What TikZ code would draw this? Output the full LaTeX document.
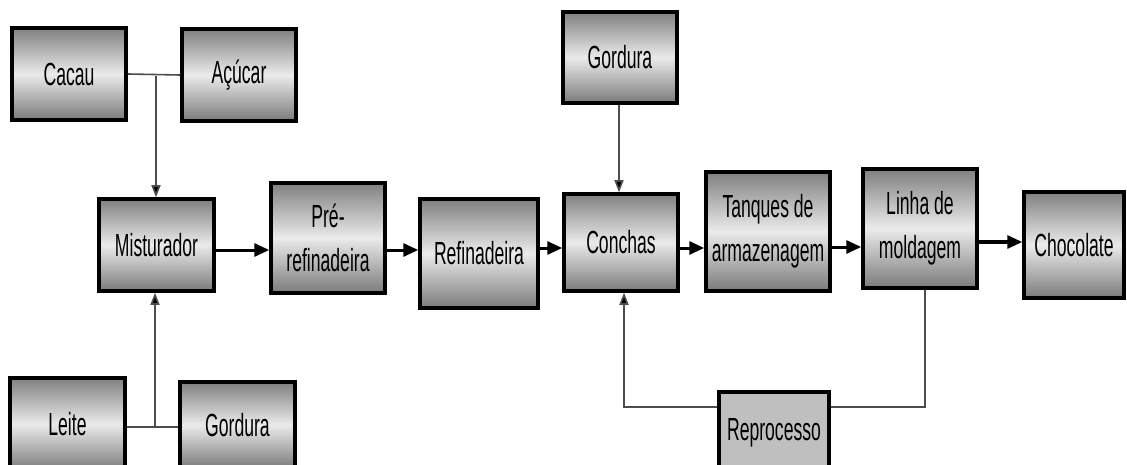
\documentclass[tikz,border=0pt]{standalone}
\usepackage{fontspec}
\setmainfont{Liberation Sans}[FakeStretch=0.55]
\usetikzlibrary{arrows.meta}
\tikzset{
  box/.style={draw=black, line width=3.5pt, top color=black!50, bottom color=black!52, middle color=black!8,
    minimum width=#1, inner sep=0pt, align=center, font=\fontsize{32}{44}\selectfont},
  flatbox/.style={draw=black, line width=3.5pt, fill=black!25, inner sep=0pt, align=center,
    font=\fontsize{32}{44}\selectfont},
  mainarrow/.style={line width=3pt, -{Triangle[length=15pt,width=13pt]}},
  thin/.style={draw=black!70, line width=1.6pt},
  thinarrow/.style={thin, -{Triangle[length=12pt,width=9pt,fill=black]}},
}
\begin{document}
\begin{tikzpicture}[x=1pt,y=-1pt]
\useasboundingbox (0,0) rectangle (1127,465);
\fill[white] (0,0) rectangle (1127,465);
\clip (0,0) rectangle (1127,465);
% top inputs
\node[box=114pt, minimum height=92pt] (cacau) at (69,74) {Cacau};
\node[box=114pt, minimum height=92pt] (acucar) at (239,75) {Açúcar};
% main chain
\node[box=115pt, minimum height=92pt] (mist) at (156.5,245) {Misturador};
\node[box=114pt, minimum height=110pt] (pre) at (328,238) {Pré-\\refinadeira};
\node[box=118pt, minimum height=109pt] (refin) at (479,253.5) {Refinadeira};
\node[box=114pt, minimum height=91pt] (gord1) at (620,57.5) {Gordura};
\node[box=114pt, minimum height=97pt] (conchas) at (621,242.5) {Conchas};
\node[box=124pt, minimum height=119pt] (tanques) at (768,231.5) {Tanques de\\armazenagem};
\node[box=114pt, minimum height=119pt] (linha) at (920,228.5) {Linha de\\moldagem};
\node[box=100pt, minimum height=106pt] (choc) at (1074,245) {Chocolate};
% bottom inputs (cut by the lower edge)
\node[box=115pt, minimum height=92pt] (leite) at (67.5,424) {Leite};
\node[box=115pt, minimum height=86pt] (gord2) at (237.5,425) {Gordura};
\node[flatbox, minimum width=110pt, minimum height=82pt] (repro) at (774,433) {Reprocesso};
% junctions
\coordinate (j1) at (156,76.5);
\coordinate (j2) at (155,427);
\draw[thin] (cacau.east) -- (acucar.west);
\draw[thinarrow] (j1) -- (j1 |- mist.north);
\draw[thin] (leite.east |- j2) -- (gord2.west |- j2);
\draw[thinarrow] (j2) -- (j2 |- mist.south);
% main arrows
\draw[mainarrow] (mist.east |- 0,250) -- (pre.west |- 0,250);
\draw[mainarrow] (pre.east |- 0,250) -- (refin.west |- 0,250);
\draw[mainarrow] (refin.east |- 0,248) -- (conchas.west |- 0,248);
\draw[mainarrow] (conchas.east |- 0,248) -- (tanques.west |- 0,248);
\draw[mainarrow] (tanques.east |- 0,247) -- (linha.west |- 0,247);
\draw[mainarrow] (linha.east |- 0,242) -- (choc.west |- 0,242);
% gordura -> conchas
\coordinate (g1) at (619,0);
\draw[thinarrow] (g1 |- gord1.south) -- (g1 |- conchas.north);
% feedback
\coordinate (f1) at (925,407);
\coordinate (f2) at (624,407);
\draw[thin] (f1 |- linha.south) -- (f1) -- (repro.east |- f1);
\draw[thinarrow] (repro.west |- f2) -- (f2) -- (f2 |- conchas.south);
\end{tikzpicture}
\end{document}
